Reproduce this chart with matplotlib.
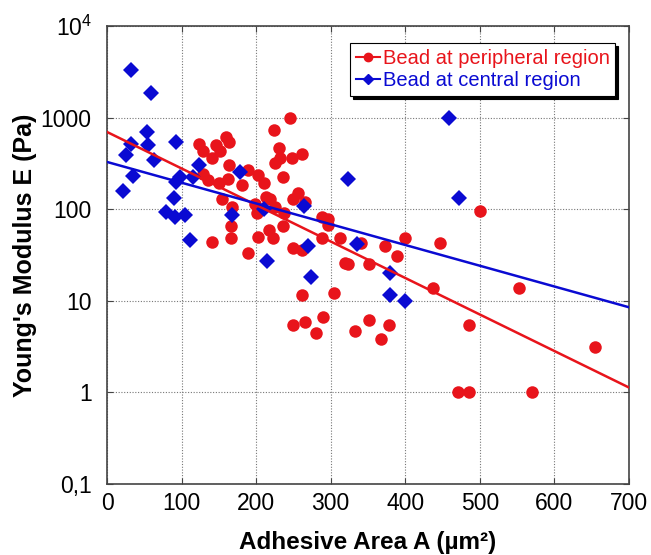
import matplotlib
matplotlib.use("Agg")
import matplotlib.pyplot as plt
from matplotlib.ticker import FixedLocator, NullLocator

plt.rcParams['font.family'] = ['Liberation Sans', 'DejaVu Sans']
plt.rcParams['mathtext.fontset'] = 'custom'
plt.rcParams['mathtext.rm'] = 'Liberation Sans'

# Red: bead at peripheral region (area um^2, modulus Pa)
red_x = [246, 224, 123, 129, 146, 151, 159, 163, 141, 129, 135, 163, 162, 150, 154,
         181, 189, 203, 210, 167, 166, 166, 141, 189, 198, 201, 202, 213, 218, 225,
         217, 222, 237, 236, 230, 225, 232, 248, 262, 236, 249, 256, 265, 249, 262,
         288, 297, 296, 288, 312, 319, 323,
         249, 265, 289, 280, 262, 304, 332, 352, 351, 341,
         500, 399, 373, 389, 446, 437, 552, 378, 368, 485, 655, 471, 485, 570]
red_y = [990, 733, 516, 433, 503, 433, 615, 542, 363, 243, 209, 305, 214, 194, 130,
         184, 269, 237, 194, 106, 66, 49, 44, 33, 115, 91, 50, 136, 130, 106,
         60, 48, 91, 66, 466, 320, 363, 363, 401, 225, 130, 151, 120, 38, 36,
         83, 79, 68, 49, 49, 26, 25,
         5.5, 5.8, 6.7, 4.5, 11.7, 12.3, 4.7, 6.2, 25.4, 43,
         96, 49, 40, 31, 43, 13.9, 13.9, 5.4, 3.8, 5.5, 3.1, 1.0, 1.0, 1.0]

# Blue: bead at central region
blue_x = [32, 59, 53, 32, 55, 92, 25, 63, 35, 21, 92, 98, 90, 79, 91, 104, 115, 123,
          178, 167, 211, 111, 264, 214, 270, 273, 323, 335, 379, 379, 399, 458, 472]
blue_y = [3300, 1850, 697, 516, 503, 542, 391, 345, 231, 159, 199, 225, 133, 94, 83,
          87, 225, 305, 256, 87, 101, 46, 109, 27, 40, 18, 214, 42, 20, 11.7, 10,
          1000, 133]

# Exponential fit lines (endpoints)
red_fit_x = [0, 700]
red_fit_y = [697, 1.13]
blue_fit_x = [0, 700]
blue_fit_y = [328, 8.5]

x_ticks = [0, 100, 200, 300, 400, 500, 600, 700]
y_ticks = [0.1, 1, 10, 100, 1000, 10000]
y_tick_labels = ['0,1', '1', '10', '100', '1000', r'$\mathregular{10^4}$']
legend_labels = ['Bead at peripheral region', 'Bead at central region']

RED = '#e8141b'
BLUE = '#0a0ad2'

fig = plt.figure(figsize=(6.51, 5.55), dpi=100)
ax = fig.add_axes([107/651, 71/555, 522/651, 458/555])

ax.plot(red_x, red_y, 'o', color=RED, markersize=9, markeredgewidth=0, zorder=3)
ax.plot(blue_x, blue_y, 'D', color=BLUE, markersize=7.8, markeredgewidth=0, zorder=3)
ax.plot(red_fit_x, red_fit_y, '-', color=RED, linewidth=1.8, zorder=4)
ax.plot(blue_fit_x, blue_fit_y, '-', color=BLUE, linewidth=1.8, zorder=4)

ax.set_yscale('log')
ax.set_xlim(0, 700)
ax.set_ylim(0.1, 10000)
ax.xaxis.set_major_locator(FixedLocator(x_ticks))
ax.yaxis.set_major_locator(FixedLocator(y_ticks))
ax.yaxis.set_minor_locator(NullLocator())
ax.set_yticklabels(y_tick_labels)
ax.tick_params(axis='both', which='major', direction='in', length=4, width=0.8,
               labelsize=16.5, top=True, right=True, colors='#444444',
               labelcolor='black')
ax.tick_params(axis='x', pad=6)
ax.tick_params(axis='y', pad=11)
ax.grid(True, linestyle=(0, (1, 1.5)), color='#777777', linewidth=0.8, zorder=0)
ax.set_axisbelow(True)
for s in ax.spines.values():
    s.set_color('#444444')
    s.set_linewidth(1.2)

ax.set_xlabel('Adhesive Area A (µm²)', fontsize=17.5, fontweight='bold', labelpad=11)
ax.set_ylabel("Young's Modulus E (Pa)", fontsize=18, fontweight='bold', labelpad=2.5)

h1, = ax.plot([], [], '-o', color=RED, markersize=6, linewidth=1.5)
h2, = ax.plot([], [], '-D', color=BLUE, markersize=5, linewidth=1.5)
leg = ax.legend([h1, h2], legend_labels,
                loc='upper right', bbox_to_anchor=(0.974, 0.963), fontsize=14.5,
                frameon=True, fancybox=False, shadow={'color': 'black', 'alpha': 1},
                handlelength=1.2, handletextpad=0.1, borderpad=0.3, labelspacing=0.15,
                borderaxespad=0.0)
leg.get_frame().set_edgecolor('black')
leg.get_frame().set_linewidth(0.8)
leg.texts[0].set_color(RED)
leg.texts[1].set_color(BLUE)

fig.savefig('out.png', dpi=100)
